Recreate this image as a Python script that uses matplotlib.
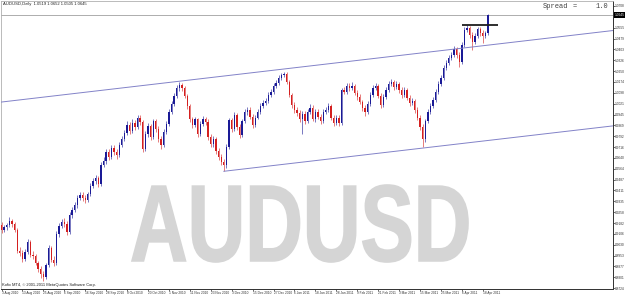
import numpy as np
import matplotlib
matplotlib.use("Agg")
import matplotlib.pyplot as plt
import matplotlib.transforms as mtransforms
from matplotlib.textpath import TextPath
from matplotlib.patches import PathPatch
from matplotlib.font_manager import FontProperties

# AUDUSD daily bars, 3 Aug 2010 .. 20 Apr 2011
opens = [0.9168, 0.9133, 0.9154, 0.9168, 0.9196, 0.9175, 0.9133, 0.8986, 0.8972, 0.8930,
         0.8979, 0.9049, 0.8958, 0.8951, 0.8902, 0.8860, 0.8825, 0.8804, 0.8888, 0.9007,
         0.8923, 0.8902, 0.9105, 0.9161, 0.9189, 0.9175, 0.9119, 0.9238, 0.9273, 0.9308,
         0.9357, 0.9378, 0.9357, 0.9343, 0.9385, 0.9441, 0.9476, 0.9497, 0.9455, 0.9588,
         0.9616, 0.9679, 0.9644, 0.9707, 0.9679, 0.9658, 0.9728, 0.9770, 0.9812, 0.9868,
         0.9826, 0.9882, 0.9854, 0.9924, 0.9889, 0.9700, 0.9805, 0.9861, 0.9784, 0.9896,
         0.9840, 0.9770, 0.9728, 0.9819, 0.9875, 0.9966, 1.0022, 1.0078, 1.0134, 1.0155,
         1.0134, 1.0078, 1.0008, 0.9910, 0.9868, 0.9910, 0.9805, 0.9875, 0.9910, 0.9889,
         0.9784, 0.9735, 0.9770, 0.9686, 0.9644, 0.9609, 0.9588, 0.9714, 0.9903, 0.9840,
         0.9945, 0.9854, 0.9798, 0.9896, 0.9966, 0.9980, 0.9931, 0.9868, 0.9924, 0.9966,
         1.0008, 1.0029, 1.0043, 1.0085, 1.0106, 1.0148, 1.0169, 1.0204, 1.0225, 1.0232,
         1.0176, 1.0085, 1.0015, 0.9980, 0.9959, 0.9910, 0.9952, 0.9896, 0.9966, 0.9994,
         0.9910, 0.9966, 0.9931, 0.9896, 0.9966, 0.9980, 1.0008, 0.9924, 0.9882, 0.9924,
         0.9882, 1.0120, 1.0106, 1.0148, 1.0134, 1.0148, 1.0099, 1.0071, 1.0036, 0.9994,
         0.9966, 1.0022, 1.0085, 1.0134, 1.0148, 1.0078, 1.0015, 1.0071, 1.0120, 1.0162,
         1.0176, 1.0141, 1.0162, 1.0120, 1.0085, 1.0120, 1.0064, 1.0029, 1.0043, 0.9980,
         0.9924, 0.9854, 0.9770, 0.9896, 0.9966, 1.0008, 1.0050, 1.0106, 1.0162, 1.0204,
         1.0274, 1.0309, 1.0344, 1.0365, 1.0407, 1.0365, 1.0316, 1.0435, 1.0540, 1.0554,
         1.0505, 1.0456, 1.0498, 1.0547, 1.0519, 1.0498, 1.0519]
closes = [0.9133, 0.9154, 0.9168, 0.9196, 0.9175, 0.9133, 0.8986, 0.8972, 0.8930, 0.8979,
          0.9049, 0.8958, 0.8951, 0.8902, 0.8860, 0.8825, 0.8804, 0.8888, 0.9007, 0.8923,
          0.8902, 0.9105, 0.9161, 0.9189, 0.9175, 0.9119, 0.9238, 0.9273, 0.9308, 0.9357,
          0.9378, 0.9357, 0.9343, 0.9385, 0.9441, 0.9476, 0.9497, 0.9455, 0.9588, 0.9616,
          0.9679, 0.9644, 0.9707, 0.9679, 0.9658, 0.9728, 0.9770, 0.9812, 0.9868, 0.9826,
          0.9882, 0.9854, 0.9924, 0.9889, 0.9700, 0.9805, 0.9861, 0.9784, 0.9896, 0.9840,
          0.9770, 0.9728, 0.9819, 0.9875, 0.9966, 1.0022, 1.0078, 1.0134, 1.0155, 1.0134,
          1.0078, 1.0008, 0.9910, 0.9868, 0.9910, 0.9805, 0.9875, 0.9910, 0.9889, 0.9784,
          0.9735, 0.9770, 0.9686, 0.9644, 0.9609, 0.9588, 0.9714, 0.9903, 0.9840, 0.9945,
          0.9854, 0.9798, 0.9896, 0.9966, 0.9980, 0.9931, 0.9868, 0.9924, 0.9966, 1.0008,
          1.0029, 1.0043, 1.0085, 1.0106, 1.0148, 1.0169, 1.0204, 1.0225, 1.0232, 1.0176,
          1.0085, 1.0015, 0.9980, 0.9959, 0.9910, 0.9952, 0.9896, 0.9966, 0.9994, 0.9910,
          0.9966, 0.9931, 0.9896, 0.9966, 0.9980, 1.0008, 0.9924, 0.9882, 0.9924, 0.9882,
          1.0120, 1.0106, 1.0148, 1.0134, 1.0148, 1.0099, 1.0071, 1.0036, 0.9994, 0.9966,
          1.0022, 1.0085, 1.0134, 1.0148, 1.0078, 1.0015, 1.0071, 1.0120, 1.0162, 1.0176,
          1.0141, 1.0162, 1.0120, 1.0085, 1.0120, 1.0064, 1.0029, 1.0043, 0.9980, 0.9924,
          0.9854, 0.9770, 0.9896, 0.9966, 1.0008, 1.0050, 1.0106, 1.0162, 1.0204, 1.0274,
          1.0309, 1.0344, 1.0365, 1.0407, 1.0365, 1.0316, 1.0435, 1.0540, 1.0554, 1.0505,
          1.0456, 1.0498, 1.0547, 1.0519, 1.0498, 1.0519, 1.0645]
highs = [0.9189, 0.9168, 0.9182, 0.9224, 0.9210, 0.9189, 0.9147, 0.9014, 0.8993, 0.9000,
         0.9070, 0.9063, 0.8986, 0.8965, 0.8916, 0.8881, 0.8846, 0.8902, 0.9028, 0.9021,
         0.8951, 0.9126, 0.9182, 0.9210, 0.9217, 0.9196, 0.9259, 0.9294, 0.9329, 0.9378,
         0.9399, 0.9399, 0.9378, 0.9399, 0.9462, 0.9497, 0.9518, 0.9511, 0.9609, 0.9644,
         0.9700, 0.9700, 0.9728, 0.9728, 0.9700, 0.9749, 0.9791, 0.9833, 0.9896, 0.9889,
         0.9910, 0.9903, 0.9945, 0.9945, 0.9903, 0.9826, 0.9882, 0.9875, 0.9917, 0.9917,
         0.9861, 0.9791, 0.9840, 0.9896, 0.9987, 1.0043, 1.0099, 1.0155, 1.0176, 1.0169,
         1.0148, 1.0092, 1.0022, 0.9931, 0.9931, 0.9924, 0.9896, 0.9938, 0.9931, 0.9910,
         0.9805, 0.9791, 0.9784, 0.9707, 0.9665, 0.9630, 0.9735, 0.9924, 0.9924, 0.9966,
         0.9959, 0.9875, 0.9917, 0.9987, 1.0001, 1.0001, 0.9952, 0.9945, 0.9987, 1.0029,
         1.0050, 1.0064, 1.0106, 1.0127, 1.0169, 1.0190, 1.0225, 1.0239, 1.0246, 1.0246,
         1.0190, 1.0099, 1.0036, 1.0001, 0.9980, 0.9973, 0.9973, 0.9987, 1.0022, 1.0015,
         0.9987, 0.9987, 0.9952, 0.9987, 1.0001, 1.0029, 1.0022, 0.9945, 0.9945, 0.9945,
         1.0134, 1.0141, 1.0169, 1.0169, 1.0176, 1.0162, 1.0120, 1.0092, 1.0050, 1.0015,
         1.0043, 1.0106, 1.0155, 1.0169, 1.0162, 1.0099, 1.0092, 1.0141, 1.0183, 1.0197,
         1.0190, 1.0183, 1.0176, 1.0141, 1.0141, 1.0134, 1.0085, 1.0064, 1.0057, 1.0001,
         0.9945, 0.9875, 0.9917, 0.9987, 1.0029, 1.0071, 1.0127, 1.0183, 1.0225, 1.0295,
         1.0330, 1.0365, 1.0386, 1.0428, 1.0421, 1.0386, 1.0456, 1.0561, 1.0575, 1.0568,
         1.0526, 1.0519, 1.0561, 1.0561, 1.0540, 1.0533, 1.0652]
lows = [0.9112, 0.9119, 0.9133, 0.9154, 0.9154, 0.9119, 0.8972, 0.8951, 0.8909, 0.8916,
        0.8965, 0.8944, 0.8930, 0.8888, 0.8839, 0.8797, 0.8776, 0.8790, 0.8874, 0.8909,
        0.8881, 0.8888, 0.9084, 0.9147, 0.9154, 0.9098, 0.9105, 0.9217, 0.9259, 0.9287,
        0.9343, 0.9336, 0.9322, 0.9329, 0.9371, 0.9427, 0.9455, 0.9434, 0.9441, 0.9574,
        0.9595, 0.9623, 0.9630, 0.9658, 0.9630, 0.9644, 0.9714, 0.9756, 0.9798, 0.9805,
        0.9812, 0.9833, 0.9840, 0.9868, 0.9679, 0.9686, 0.9784, 0.9763, 0.9770, 0.9819,
        0.9749, 0.9700, 0.9714, 0.9805, 0.9861, 0.9952, 1.0008, 1.0064, 1.0113, 1.0113,
        1.0064, 0.9987, 0.9889, 0.9847, 0.9854, 0.9784, 0.9791, 0.9861, 0.9868, 0.9763,
        0.9714, 0.9714, 0.9665, 0.9623, 0.9588, 0.9546, 0.9567, 0.9700, 0.9819, 0.9826,
        0.9833, 0.9777, 0.9784, 0.9882, 0.9945, 0.9910, 0.9847, 0.9854, 0.9910, 0.9952,
        0.9994, 1.0015, 1.0029, 1.0071, 1.0092, 1.0134, 1.0155, 1.0190, 1.0211, 1.0162,
        1.0071, 0.9994, 0.9959, 0.9938, 0.9889, 0.9805, 0.9875, 0.9882, 0.9952, 0.9896,
        0.9889, 0.9910, 0.9875, 0.9882, 0.9952, 0.9966, 0.9903, 0.9861, 0.9868, 0.9861,
        0.9868, 1.0092, 1.0092, 1.0113, 1.0120, 1.0085, 1.0050, 1.0022, 0.9973, 0.9938,
        0.9952, 1.0008, 1.0071, 1.0120, 1.0064, 0.9994, 1.0001, 1.0057, 1.0106, 1.0148,
        1.0120, 1.0127, 1.0099, 1.0064, 1.0071, 1.0050, 1.0008, 1.0015, 0.9959, 0.9903,
        0.9833, 0.9714, 0.9749, 0.9882, 0.9952, 0.9994, 1.0036, 1.0092, 1.0148, 1.0190,
        1.0260, 1.0295, 1.0330, 1.0351, 1.0344, 1.0281, 1.0302, 1.0421, 1.0526, 1.0484,
        1.0400, 1.0442, 1.0484, 1.0498, 1.0449, 1.0484, 1.0505]

# one label every 8 bars
date_labels = ['3 Aug 2010', '13 Aug 2010', '25 Aug 2010', '6 Sep 2010', '16 Sep 2010',
               '28 Sep 2010', '8 Oct 2010', '20 Oct 2010', '1 Nov 2010', '11 Nov 2010',
               '23 Nov 2010', '3 Dec 2010', '15 Dec 2010', '27 Dec 2010', '6 Jan 2011',
               '18 Jan 2011', '28 Jan 2011', '9 Feb 2011', '21 Feb 2011', '3 Mar 2011',
               '15 Mar 2011', '25 Mar 2011', '6 Apr 2011', '18 Apr 2011']
# 1.0632 sits under the bid price box, so it is left out
price_ticks = [1.0708, 1.0555, 1.0479, 1.0403, 1.0326, 1.0250, 1.0174, 1.0098,
               1.0021, 0.9945, 0.9869, 0.9792, 0.9716, 0.9640, 0.9564, 0.9487, 0.9411,
               0.9335, 0.9258, 0.9182, 0.9106, 0.9030, 0.8953, 0.8877, 0.8801, 0.8724]

# drawn objects: (bar, price) anchors
upper_channel = [(68, 1.0179), (108, 1.0265)]
lower_channel = [(85, 0.9546), (161, 0.9709)]
resistance = [(176, 1.0575), (190, 1.0575)]

symbol = 'AUDUSD'
spread = 1.0

bull = '#1a1a96'
bear = '#d42020'
chan_col = '#8282c8'

W, H = 625, 295
fig = plt.figure(figsize=(W / 100, H / 100), dpi=100)
fig.patch.set_facecolor('white')
ax = fig.add_axes([1 / W, (H - 288.5) / H, 611.5 / W, 287.5 / H])

o = np.array(opens)
c = np.array(closes)
h = np.array(highs)
l = np.array(lows)
idx = np.arange(len(c))
cols = np.where(c >= o, bull, bear)

# watermark behind the bars
fp = FontProperties(family='Liberation Sans', weight='bold')
tp = TextPath((0, 0), symbol, prop=fp, size=1)
bb = tp.get_extents()
x0, x1, ytop, ybot = 132, 468, 185, 262
tr = (mtransforms.Affine2D().translate(-bb.x0, -bb.y0)
      .scale((x1 - x0) / bb.width / 100, (ybot - ytop) / bb.height / 100)
      .translate(x0 / 100, (H - ybot) / 100) + fig.dpi_scale_trans)
wm = PathPatch(tp, transform=tr, facecolor='#d5d5d5', edgecolor='#d5d5d5', lw=1.2,
               zorder=0.5)
ax.add_patch(wm)

# candles
ax.vlines(idx, l, h, colors=cols, lw=0.55, alpha=0.75, zorder=3)
ax.bar(idx, np.maximum(np.abs(c - o), 0.0002), bottom=np.minimum(o, c), width=0.5,
       color=cols, lw=0, zorder=4)

ax.set_xlim(-0.2, 233.6)
ax.set_ylim(0.8722, 1.0743)

# channel lines
ax.axline(upper_channel[0], upper_channel[1], color=chan_col, lw=0.7, zorder=5)
(bx, by), (ex, ey) = lower_channel
slope = (ey - by) / (ex - bx)
xr = ax.get_xlim()[1]
ax.plot([bx, xr], [by, by + slope * (xr - bx)], color=chan_col, lw=0.7, zorder=5,
        clip_on=True)
ax.plot([p[0] for p in resistance], [p[1] for p in resistance], color='#1e1e1e',
        lw=1.3, zorder=6, solid_capstyle='butt')

# bid line + price box
ax.axhline(c[-1], color='#a0a0a0', lw=0.6, zorder=2)
ax.text(1.003, c[-1], f'{c[-1]:.4f}', transform=ax.get_yaxis_transform(),
        ha='left', va='center', fontsize=2.3, color='white', family='Liberation Sans',
        bbox=dict(boxstyle='square,pad=0.25', fc='black', ec='none'), zorder=10)

# axes look
for s in ['left', 'top']:
    ax.spines[s].set_color('#b0b0b0')
    ax.spines[s].set_linewidth(0.6)
for s in ['right', 'bottom']:
    ax.spines[s].set_color('#303030')
    ax.spines[s].set_linewidth(0.7)

ax.yaxis.tick_right()
ax.set_yticks(price_ticks)
ax.set_yticklabels([f'{p:.4f}' for p in price_ticks])
ax.tick_params(axis='y', length=1.2, width=0.5, pad=0.3, labelsize=2.3, colors='#303030')
ax.set_xticks(np.arange(0, len(date_labels) * 8, 8))
ax.set_xticklabels(date_labels)
ax.tick_params(axis='x', length=1.5, width=0.5, pad=0.3, labelsize=2.3, colors='#303030')
for t in ax.get_xticklabels() + ax.get_yticklabels():
    t.set_family('Liberation Sans')
for t in ax.get_xticklabels():
    t.set_horizontalalignment('left')

# header texts
fig.text(3 / W, 1 - 4.5 / H,
         f'{symbol},Daily  {o[-1]:.4f} {h[-1]:.4f} {l[-1]:.4f} {c[-1]:.4f}',
         fontsize=3.0, family='Liberation Sans', va='center', color='#202020')
fig.text(543 / W, 1 - 7 / H, 'Spread', fontsize=5, family='Liberation Mono',
         va='center', color='#404040')
fig.text(573 / W, 1 - 7 / H, '=', fontsize=5, family='Liberation Mono',
         va='center', color='#404040')
fig.text(608 / W, 1 - 7 / H, f'{spread:.1f}', fontsize=5, family='Liberation Mono',
         va='center', ha='right', color='#404040')
fig.text(2 / W, 1 - 285 / H, 'Kofix MT4, \u00a9 2001-2011 MetaQuotes Software Corp.',
         fontsize=2.9, family='Liberation Sans', va='center', color='#202020')

fig.savefig('out.png', dpi=100)
